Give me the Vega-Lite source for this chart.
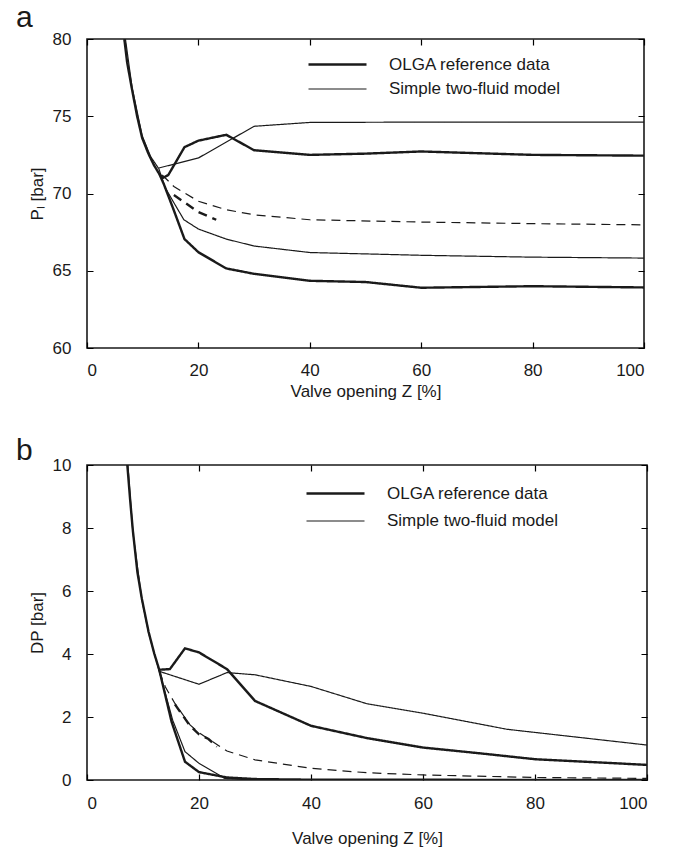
{
  "$schema": "https://vega.github.io/schema/vega-lite/v6.json",
  "padding": {"left": 15, "top": 2, "right": 5, "bottom": 5},
  "config": {
    "font": "Liberation Sans",
    "view": {"stroke": "#1a1a1a", "strokeWidth": 1.6},
    "axis": {"domain": false, "labelFont": "Liberation Sans", "labelFontSize": 17, "labelColor": "#1a1a1a",
      "titleFont": "Liberation Sans", "titleFontSize": 17, "titleFontWeight": "normal", "titleColor": "#1a1a1a"},
    "legend": {"orient": "none", "symbolType": "M-2.9,0H2.9", "symbolSize": 400, "symbolStrokeColor": "#1a1a1a",
      "labelFont": "Liberation Sans", "labelFontSize": 17, "labelColor": "#1a1a1a", "labelOffset": 40,
      "labelLimit": 400, "padding": 0},
    "title": {"font": "Liberation Sans", "fontSize": 30, "fontWeight": "normal", "color": "#1a1a1a", "anchor": "start", "frame": "bounds"},
    "concat": {"spacing": 35}
  },
  "resolve": {"scale": {"strokeWidth": "independent", "strokeDash": "independent"}, "legend": {"strokeWidth": "independent", "strokeDash": "independent"}},
  "datasets": {
    "a": [
      {"series": "om", "model": "OLGA reference data", "line": "solid", "z": 6.7, "v": 80},
      {"series": "om", "model": "OLGA reference data", "line": "solid", "z": 7.2, "v": 78.5},
      {"series": "om", "model": "OLGA reference data", "line": "solid", "z": 8.1, "v": 76.7},
      {"series": "om", "model": "OLGA reference data", "line": "solid", "z": 9, "v": 75.0},
      {"series": "om", "model": "OLGA reference data", "line": "solid", "z": 9.9, "v": 73.6},
      {"series": "om", "model": "OLGA reference data", "line": "solid", "z": 11, "v": 72.6},
      {"series": "om", "model": "OLGA reference data", "line": "solid", "z": 12, "v": 71.85},
      {"series": "om", "model": "OLGA reference data", "line": "solid", "z": 13, "v": 71.25},
      {"series": "om", "model": "OLGA reference data", "line": "solid", "z": 13.6, "v": 71.0},
      {"series": "om", "model": "OLGA reference data", "line": "solid", "z": 14.6, "v": 71.2},
      {"series": "om", "model": "OLGA reference data", "line": "solid", "z": 17.5, "v": 73.0},
      {"series": "om", "model": "OLGA reference data", "line": "solid", "z": 20, "v": 73.42},
      {"series": "om", "model": "OLGA reference data", "line": "solid", "z": 25, "v": 73.8},
      {"series": "om", "model": "OLGA reference data", "line": "solid", "z": 30, "v": 72.8},
      {"series": "om", "model": "OLGA reference data", "line": "solid", "z": 40, "v": 72.5},
      {"series": "om", "model": "OLGA reference data", "line": "solid", "z": 50, "v": 72.58},
      {"series": "om", "model": "OLGA reference data", "line": "solid", "z": 60, "v": 72.72},
      {"series": "om", "model": "OLGA reference data", "line": "solid", "z": 80, "v": 72.5},
      {"series": "om", "model": "OLGA reference data", "line": "solid", "z": 100, "v": 72.45},
      {"series": "on", "model": "OLGA reference data", "line": "solid", "z": 13, "v": 71.25},
      {"series": "on", "model": "OLGA reference data", "line": "solid", "z": 13.8, "v": 70.6},
      {"series": "on", "model": "OLGA reference data", "line": "solid", "z": 15.6, "v": 68.9},
      {"series": "on", "model": "OLGA reference data", "line": "solid", "z": 17.5, "v": 67.05},
      {"series": "on", "model": "OLGA reference data", "line": "solid", "z": 20, "v": 66.2},
      {"series": "on", "model": "OLGA reference data", "line": "solid", "z": 25, "v": 65.15},
      {"series": "on", "model": "OLGA reference data", "line": "solid", "z": 30, "v": 64.8},
      {"series": "on", "model": "OLGA reference data", "line": "solid", "z": 40, "v": 64.35},
      {"series": "on", "model": "OLGA reference data", "line": "solid", "z": 50, "v": 64.27},
      {"series": "on", "model": "OLGA reference data", "line": "solid", "z": 60, "v": 63.9},
      {"series": "on", "model": "OLGA reference data", "line": "solid", "z": 80, "v": 64.0},
      {"series": "on", "model": "OLGA reference data", "line": "solid", "z": 100, "v": 63.92},
      {"series": "ou", "model": "OLGA reference data", "line": "dashed", "z": 15.6, "v": 69.9},
      {"series": "ou", "model": "OLGA reference data", "line": "dashed", "z": 20, "v": 68.8},
      {"series": "ou", "model": "OLGA reference data", "line": "dashed", "z": 23.2, "v": 68.3},
      {"series": "ms", "model": "Simple two-fluid model", "line": "solid", "z": 6.9, "v": 80},
      {"series": "ms", "model": "Simple two-fluid model", "line": "solid", "z": 8.1, "v": 76.85},
      {"series": "ms", "model": "Simple two-fluid model", "line": "solid", "z": 9.9, "v": 73.75},
      {"series": "ms", "model": "Simple two-fluid model", "line": "solid", "z": 11.4, "v": 72.4},
      {"series": "ms", "model": "Simple two-fluid model", "line": "solid", "z": 12.9, "v": 71.6},
      {"series": "mm", "model": "Simple two-fluid model", "line": "solid", "z": 12.9, "v": 71.65},
      {"series": "mm", "model": "Simple two-fluid model", "line": "solid", "z": 20, "v": 72.3},
      {"series": "mm", "model": "Simple two-fluid model", "line": "solid", "z": 30, "v": 74.35},
      {"series": "mm", "model": "Simple two-fluid model", "line": "solid", "z": 40, "v": 74.6},
      {"series": "mm", "model": "Simple two-fluid model", "line": "solid", "z": 60, "v": 74.62},
      {"series": "mm", "model": "Simple two-fluid model", "line": "solid", "z": 100, "v": 74.62},
      {"series": "mn", "model": "Simple two-fluid model", "line": "solid", "z": 12.9, "v": 71.6},
      {"series": "mn", "model": "Simple two-fluid model", "line": "solid", "z": 14, "v": 70.4},
      {"series": "mn", "model": "Simple two-fluid model", "line": "solid", "z": 15.6, "v": 69.4},
      {"series": "mn", "model": "Simple two-fluid model", "line": "solid", "z": 17.4, "v": 68.3},
      {"series": "mn", "model": "Simple two-fluid model", "line": "solid", "z": 20, "v": 67.7},
      {"series": "mn", "model": "Simple two-fluid model", "line": "solid", "z": 25, "v": 67.05},
      {"series": "mn", "model": "Simple two-fluid model", "line": "solid", "z": 30, "v": 66.6},
      {"series": "mn", "model": "Simple two-fluid model", "line": "solid", "z": 40, "v": 66.18},
      {"series": "mn", "model": "Simple two-fluid model", "line": "solid", "z": 60, "v": 66.0},
      {"series": "mn", "model": "Simple two-fluid model", "line": "solid", "z": 80, "v": 65.88},
      {"series": "mn", "model": "Simple two-fluid model", "line": "solid", "z": 100, "v": 65.82},
      {"series": "mu", "model": "Simple two-fluid model", "line": "dashed", "z": 13.5, "v": 71.2},
      {"series": "mu", "model": "Simple two-fluid model", "line": "dashed", "z": 15.6, "v": 70.45},
      {"series": "mu", "model": "Simple two-fluid model", "line": "dashed", "z": 20, "v": 69.5},
      {"series": "mu", "model": "Simple two-fluid model", "line": "dashed", "z": 25, "v": 68.95},
      {"series": "mu", "model": "Simple two-fluid model", "line": "dashed", "z": 30, "v": 68.62},
      {"series": "mu", "model": "Simple two-fluid model", "line": "dashed", "z": 40, "v": 68.3},
      {"series": "mu", "model": "Simple two-fluid model", "line": "dashed", "z": 60, "v": 68.15},
      {"series": "mu", "model": "Simple two-fluid model", "line": "dashed", "z": 80, "v": 68.05},
      {"series": "mu", "model": "Simple two-fluid model", "line": "dashed", "z": 100, "v": 67.97}
    ],
    "b": [
      {"series": "om", "model": "OLGA reference data", "line": "solid", "z": 7.2, "v": 10},
      {"series": "om", "model": "OLGA reference data", "line": "solid", "z": 7.7, "v": 8.9},
      {"series": "om", "model": "OLGA reference data", "line": "solid", "z": 8.2, "v": 7.9},
      {"series": "om", "model": "OLGA reference data", "line": "solid", "z": 9, "v": 6.6},
      {"series": "om", "model": "OLGA reference data", "line": "solid", "z": 9.8, "v": 5.75},
      {"series": "om", "model": "OLGA reference data", "line": "solid", "z": 11, "v": 4.7},
      {"series": "om", "model": "OLGA reference data", "line": "solid", "z": 12, "v": 4.02},
      {"series": "om", "model": "OLGA reference data", "line": "solid", "z": 12.9, "v": 3.5},
      {"series": "om", "model": "OLGA reference data", "line": "solid", "z": 14.8, "v": 3.52},
      {"series": "om", "model": "OLGA reference data", "line": "solid", "z": 17.5, "v": 4.18},
      {"series": "om", "model": "OLGA reference data", "line": "solid", "z": 20, "v": 4.05},
      {"series": "om", "model": "OLGA reference data", "line": "solid", "z": 25, "v": 3.52},
      {"series": "om", "model": "OLGA reference data", "line": "solid", "z": 30, "v": 2.51},
      {"series": "om", "model": "OLGA reference data", "line": "solid", "z": 40, "v": 1.72},
      {"series": "om", "model": "OLGA reference data", "line": "solid", "z": 50, "v": 1.33},
      {"series": "om", "model": "OLGA reference data", "line": "solid", "z": 60, "v": 1.03},
      {"series": "om", "model": "OLGA reference data", "line": "solid", "z": 70, "v": 0.85},
      {"series": "om", "model": "OLGA reference data", "line": "solid", "z": 80, "v": 0.66},
      {"series": "om", "model": "OLGA reference data", "line": "solid", "z": 100, "v": 0.48},
      {"series": "on", "model": "OLGA reference data", "line": "solid", "z": 12.9, "v": 3.5},
      {"series": "on", "model": "OLGA reference data", "line": "solid", "z": 15.1, "v": 1.85},
      {"series": "on", "model": "OLGA reference data", "line": "solid", "z": 17.5, "v": 0.58},
      {"series": "on", "model": "OLGA reference data", "line": "solid", "z": 20, "v": 0.25},
      {"series": "on", "model": "OLGA reference data", "line": "solid", "z": 25, "v": 0.08},
      {"series": "on", "model": "OLGA reference data", "line": "solid", "z": 30, "v": 0.03},
      {"series": "on", "model": "OLGA reference data", "line": "solid", "z": 40, "v": 0.01},
      {"series": "on", "model": "OLGA reference data", "line": "solid", "z": 100, "v": 0.0},
      {"series": "ou", "model": "OLGA reference data", "line": "dashed", "z": 15.7, "v": 2.4},
      {"series": "ou", "model": "OLGA reference data", "line": "dashed", "z": 18.4, "v": 1.72},
      {"series": "ou", "model": "OLGA reference data", "line": "dashed", "z": 20, "v": 1.45},
      {"series": "ou", "model": "OLGA reference data", "line": "dashed", "z": 21.7, "v": 1.3},
      {"series": "ou", "model": "OLGA reference data", "line": "dashed", "z": 23.2, "v": 1.06},
      {"series": "ms", "model": "Simple two-fluid model", "line": "solid", "z": 7.3, "v": 10},
      {"series": "ms", "model": "Simple two-fluid model", "line": "solid", "z": 8.2, "v": 7.85},
      {"series": "ms", "model": "Simple two-fluid model", "line": "solid", "z": 9.8, "v": 5.72},
      {"series": "ms", "model": "Simple two-fluid model", "line": "solid", "z": 11, "v": 4.68},
      {"series": "ms", "model": "Simple two-fluid model", "line": "solid", "z": 12.9, "v": 3.45},
      {"series": "mm", "model": "Simple two-fluid model", "line": "solid", "z": 12.9, "v": 3.45},
      {"series": "mm", "model": "Simple two-fluid model", "line": "solid", "z": 20, "v": 3.04},
      {"series": "mm", "model": "Simple two-fluid model", "line": "solid", "z": 25, "v": 3.41},
      {"series": "mm", "model": "Simple two-fluid model", "line": "solid", "z": 30, "v": 3.34},
      {"series": "mm", "model": "Simple two-fluid model", "line": "solid", "z": 40, "v": 2.97},
      {"series": "mm", "model": "Simple two-fluid model", "line": "solid", "z": 50, "v": 2.42},
      {"series": "mm", "model": "Simple two-fluid model", "line": "solid", "z": 60, "v": 2.12},
      {"series": "mm", "model": "Simple two-fluid model", "line": "solid", "z": 75, "v": 1.61},
      {"series": "mm", "model": "Simple two-fluid model", "line": "solid", "z": 80, "v": 1.51},
      {"series": "mm", "model": "Simple two-fluid model", "line": "solid", "z": 100, "v": 1.11},
      {"series": "mn", "model": "Simple two-fluid model", "line": "solid", "z": 12.9, "v": 3.45},
      {"series": "mn", "model": "Simple two-fluid model", "line": "solid", "z": 15.3, "v": 1.9},
      {"series": "mn", "model": "Simple two-fluid model", "line": "solid", "z": 17.5, "v": 0.9},
      {"series": "mn", "model": "Simple two-fluid model", "line": "solid", "z": 20, "v": 0.53},
      {"series": "mn", "model": "Simple two-fluid model", "line": "solid", "z": 24.6, "v": 0.05},
      {"series": "mn", "model": "Simple two-fluid model", "line": "solid", "z": 30, "v": 0.0},
      {"series": "mn", "model": "Simple two-fluid model", "line": "solid", "z": 100, "v": 0.0},
      {"series": "mu", "model": "Simple two-fluid model", "line": "dashed", "z": 12.9, "v": 3.45},
      {"series": "mu", "model": "Simple two-fluid model", "line": "dashed", "z": 14, "v": 2.95},
      {"series": "mu", "model": "Simple two-fluid model", "line": "dashed", "z": 15.7, "v": 2.43},
      {"series": "mu", "model": "Simple two-fluid model", "line": "dashed", "z": 18.4, "v": 1.75},
      {"series": "mu", "model": "Simple two-fluid model", "line": "dashed", "z": 20, "v": 1.5},
      {"series": "mu", "model": "Simple two-fluid model", "line": "dashed", "z": 25, "v": 0.92},
      {"series": "mu", "model": "Simple two-fluid model", "line": "dashed", "z": 30, "v": 0.64},
      {"series": "mu", "model": "Simple two-fluid model", "line": "dashed", "z": 40, "v": 0.37},
      {"series": "mu", "model": "Simple two-fluid model", "line": "dashed", "z": 50, "v": 0.23},
      {"series": "mu", "model": "Simple two-fluid model", "line": "dashed", "z": 60, "v": 0.16},
      {"series": "mu", "model": "Simple two-fluid model", "line": "dashed", "z": 80, "v": 0.08},
      {"series": "mu", "model": "Simple two-fluid model", "line": "dashed", "z": 100, "v": 0.05}
    ]
  },
  "vconcat": [
    {
      "width": 557, "height": 309,
      "title": {"text": "a", "dx": -12, "offset": -3},
      "data": {"name": "a"},
      "mark": {"type": "line", "clip": true},
      "encoding": {
        "x": {"field": "z", "type": "quantitative", "scale": {"domain": [0, 100], "nice": false},
          "axis": {"orient": "bottom", "values": [0, 20, 40, 60, 80, 100], "title": "Valve opening Z [%]", "labelPadding": 14, "titlePadding": 5,
            "ticks": false, "grid": true, "gridColor": "black", "gridOpacity": 1, "gridWidth": 1.2, "gridDash": [6, 297, 6, 1000]}},
        "y": {"field": "v", "type": "quantitative", "scale": {"domain": [60, 80], "nice": false, "zero": false},
          "axis": {"orient": "left", "values": [60, 65, 70, 75, 80], "title": "Pₗ [bar]", "labelPadding": 16, "titlePadding": 6,
            "ticks": false, "grid": true, "gridColor": "black", "gridOpacity": 1, "gridWidth": 1.2, "gridDash": [6, 545, 6, 1000]}},
        "detail": {"field": "series", "type": "nominal"},
        "strokeWidth": {"field": "model", "type": "nominal",
          "scale": {"domain": ["OLGA reference data", "Simple two-fluid model"], "range": [2.4, 1.2]},
          "legend": {"title": null, "legendX": 239, "legendY": 14, "rowPadding": 5}},
        "strokeDash": {"field": "line", "type": "nominal",
          "scale": {"domain": ["solid", "dashed"], "range": [[1, 0], [9, 6]]}, "legend": null},
        "color": {"value": "#1a1a1a"}
      }
    },
    {
      "width": 560, "height": 315,
      "title": {"text": "b", "dx": -12, "offset": -10},
      "data": {"name": "b"},
      "mark": {"type": "line", "clip": true},
      "encoding": {
        "x": {"field": "z", "type": "quantitative", "scale": {"domain": [0, 100], "nice": false},
          "axis": {"orient": "bottom", "values": [0, 20, 40, 60, 80, 100], "title": "Valve opening Z [%]", "labelPadding": 15, "titlePadding": 19,
            "ticks": false, "grid": true, "gridColor": "black", "gridOpacity": 1, "gridWidth": 1.2, "gridDash": [6, 303, 6, 1000]}},
        "y": {"field": "v", "type": "quantitative", "scale": {"domain": [0, 10], "nice": false},
          "axis": {"orient": "left", "values": [0, 2, 4, 6, 8, 10], "title": "DP [bar]", "labelPadding": 16, "titlePadding": 6,
            "ticks": false, "grid": true, "gridColor": "black", "gridOpacity": 1, "gridWidth": 1.2, "gridDash": [6, 548, 6, 1000]}},
        "detail": {"field": "series", "type": "nominal"},
        "strokeWidth": {"field": "model", "type": "nominal",
          "scale": {"domain": ["OLGA reference data", "Simple two-fluid model"], "range": [2.4, 1.2]},
          "legend": {"title": null, "legendX": 237, "legendY": 17, "rowPadding": 8}},
        "strokeDash": {"field": "line", "type": "nominal",
          "scale": {"domain": ["solid", "dashed"], "range": [[1, 0], [9, 6]]}, "legend": null},
        "color": {"value": "#1a1a1a"}
      }
    }
  ]
}
